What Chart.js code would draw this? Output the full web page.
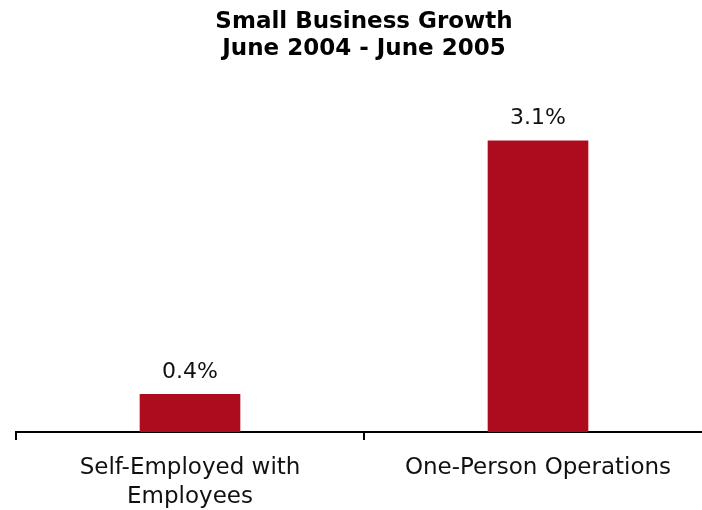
<!DOCTYPE html>
<html>
<head>
<meta charset="utf-8">
<script src="https://cdn.jsdelivr.net/npm/chart.js@4/dist/chart.umd.min.js"></script>
<style>
  html, body { margin: 0; padding: 0; background: #fff; overflow: hidden; }
  #wrap { width: 712px; height: 510px; }
</style>
</head>
<body>
<div id="wrap"><canvas id="c" width="712" height="510"></canvas></div>
<script>
// Chart text and values
const titleLines = ['Small Business Growth', 'June 2004 - June 2005'];
const categories = [['Self-Employed with', 'Employees'], 'One-Person Operations'];
const growth = [0.4, 3.1];            // percent change
const valueLabels = ['0.4%', '3.1%'];

const FONT = "'DejaVu Sans', Verdana, sans-serif";

// Writes each bar's value just above it
const valueLabelPlugin = {
  id: 'valueLabels',
  afterDatasetsDraw(chart) {
    const ctx = chart.ctx;
    const meta = chart.getDatasetMeta(0);
    ctx.save();
    ctx.font = '22px ' + FONT;
    ctx.fillStyle = '#111';
    ctx.textAlign = 'center';
    ctx.textBaseline = 'middle';
    meta.data.forEach((bar, i) => {
      ctx.fillText(valueLabels[i], bar.x, bar.y - 22);
    });
    ctx.restore();
  }
};

new Chart(document.getElementById('c'), {
  type: 'bar',
  data: {
    labels: categories,
    datasets: [{
      data: growth,
      backgroundColor: '#AD0C1F',
      borderWidth: 0,
      barThickness: 100
    }]
  },
  options: {
    responsive: false,
    animation: false,
    layout: { padding: { left: 16, right: 0, top: 0, bottom: 0 } },
    plugins: {
      legend: { display: false },
      tooltip: { enabled: false },
      title: {
        display: true,
        fullSize: false,
        text: titleLines,
        color: '#000',
        font: { family: FONT, size: 23, weight: 'bold', lineHeight: 1.2 },
        padding: { top: 8, bottom: 40 }
      }
    },
    scales: {
      x: {
        border: { display: true, color: '#000', width: 2 },
        grid: {
          display: true,
          drawOnChartArea: false,
          drawTicks: true,
          tickLength: 8,
          color: '#000',
          lineWidth: 2
        },
        ticks: {
          color: '#111',
          padding: 14,
          maxRotation: 0,
          autoSkip: false,
          font: { family: FONT, size: 23, lineHeight: 1.24 }
        },
        afterFit(scale) { scale.height = 78; }
      },
      y: {
        display: false,
        min: 0,
        max: 3.5
      }
    }
  },
  plugins: [valueLabelPlugin]
});
</script>
</body>
</html>
